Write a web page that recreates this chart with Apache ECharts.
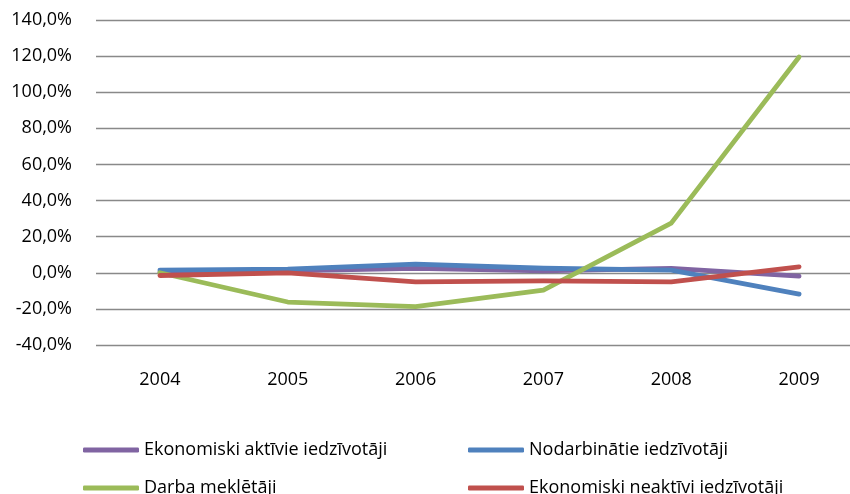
<!DOCTYPE html>
<html>
<head>
<meta charset="utf-8">
<script src="https://cdn.jsdelivr.net/npm/echarts@6/dist/echarts.min.js"></script>
<style>html,body{margin:0;padding:0;background:#fff}#c{width:850px;height:494px}</style>
</head>
<body>
<div id="c"></div>
<script>
const years = ['2004', '2005', '2006', '2007', '2008', '2009'];
const seriesNames = ['Ekonomiski aktīvie iedzīvotāji', 'Nodarbinātie iedzīvotāji', 'Darba meklētāji', 'Ekonomiski neaktīvi iedzīvotāji'];
const aktivie = [0.5, 1.0, 2.4, 1.0, 2.4, -1.8];
const nodarbinatie = [1.5, 2.0, 4.8, 2.5, 1.5, -11.8];
const meklētaji = [0.0, -16.2, -18.8, -9.6, 27.5, 119.5];
const neaktivi = [-1.5, 0.0, -5.0, -4.5, -5.0, 3.3];
const yTicks = {min: -40, max: 140, interval: 20};
const colors = ['#8064A2', '#4F81BD', '#9BBB59', '#C0504D'];

const FONT = 'Open Sans';
const chart = echarts.init(document.getElementById('c'));
const mk = (i, data) => ({
  name: seriesNames[i], type: 'line', data: data, symbol: 'none',
  lineStyle: {width: 4.8, color: colors[i], cap: 'round', join: 'round'},
  itemStyle: {color: colors[i]}
});
const leg = (i, left, top) => ({
  left: left, top: top, data: [seriesNames[i]],
  itemWidth: 56, itemHeight: 5, icon: 'roundRect', padding: 0,
  textStyle: {fontFamily: FONT, fontSize: 18, color: '#000'}
});
chart.setOption({
  animation: false,
  grid: {left: 96, top: 20, width: 767, height: 325, outerBoundsMode: 'none', containLabel: false},
  xAxis: {
    type: 'category', data: years, boundaryGap: true,
    axisLine: {show: false}, axisTick: {show: false},
    axisLabel: {fontFamily: FONT, fontSize: 18, color: '#000', margin: 26}
  },
  yAxis: {
    type: 'value', min: yTicks.min, max: yTicks.max, interval: yTicks.interval,
    axisLine: {show: false}, axisTick: {show: false},
    axisLabel: {fontFamily: FONT, fontSize: 18, color: '#000', margin: 24,
      formatter: v => v.toFixed(1).replace('.', ',') + '%'},
    splitLine: {lineStyle: {color: '#898989', width: 1.3}}
  },
  legend: [
    leg(0, 83, 441), leg(1, 468, 441), leg(2, 83, 479), leg(3, 468, 479)
  ],
  series: [mk(0, aktivie), mk(1, nodarbinatie), mk(2, meklētaji), mk(3, neaktivi)]
});
</script>
</body>
</html>
